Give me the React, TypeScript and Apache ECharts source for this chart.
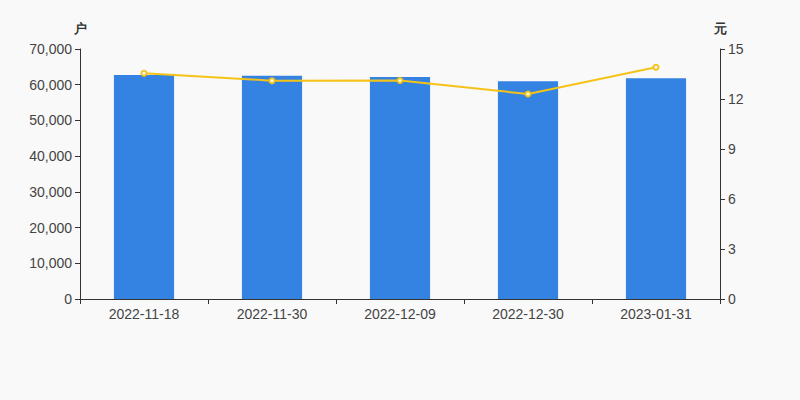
import React, { useEffect, useRef } from "react";
import * as echarts from "echarts";

const categories = ["2022-11-18", "2022-11-30", "2022-12-09", "2022-12-30", "2023-01-31"];
const holders = [62700, 62500, 62150, 60950, 61800];
const prices = [13.55, 13.1, 13.11, 12.3, 13.9];
const leftTicks = { min: 0, max: 70000, interval: 10000 };
const rightTicks = { min: 0, max: 15, interval: 3 };

export default function App() {
  const ref = useRef<HTMLDivElement>(null);
  useEffect(() => {
    document.body.style.margin = "0";
    if (!ref.current) return;
    const chart = echarts.init(ref.current, null, { renderer: "svg" });
    const axisColor = "#333";
    const labelColor = "#444";
    chart.setOption({
      animation: false,
      backgroundColor: "#f9f9f9",
      textStyle: { fontFamily: "Arial, Liberation Sans, sans-serif" },
      grid: { left: 80, right: 80, top: 49, bottom: 101 },
      xAxis: {
        type: "category",
        data: categories,
        axisLine: { lineStyle: { color: axisColor } },
        axisTick: { show: true, alignWithLabel: false, lineStyle: { color: axisColor } },
        axisLabel: { color: labelColor, fontSize: 14, margin: 8 },
      },
      yAxis: [
        {
          type: "value",
          name: "户",
          nameGap: 14,
          nameTextStyle: { color: axisColor, fontSize: 13, fontWeight: "bold", align: "center" },
          ...leftTicks,
          position: "left",
          axisLine: { show: true, lineStyle: { color: axisColor } },
          axisTick: { show: true, lineStyle: { color: axisColor } },
          splitLine: { show: false },
          axisLabel: {
            color: labelColor,
            fontSize: 14,
            formatter: (v: number) => v.toLocaleString("en-US"),
          },
        },
        {
          type: "value",
          name: "元",
          nameGap: 14,
          nameTextStyle: { color: axisColor, fontSize: 13, fontWeight: "bold", align: "center" },
          ...rightTicks,
          position: "right",
          axisLine: { show: true, lineStyle: { color: axisColor } },
          axisTick: { show: true, lineStyle: { color: axisColor } },
          splitLine: { show: false },
          axisLabel: { color: labelColor, fontSize: 14 },
        },
      ],
      series: [
        {
          type: "bar",
          data: holders,
          barWidth: "47%",
          itemStyle: { color: "#3483e2" },
          yAxisIndex: 0,
        },
        {
          type: "line",
          data: prices,
          yAxisIndex: 1,
          symbol: "emptyCircle",
          symbolSize: 5,
          lineStyle: { color: "#f5c318", width: 2 },
          itemStyle: { color: "#f5c318", borderWidth: 1 },
        },
      ],
    });
    return () => chart.dispose();
  }, []);
  return <div ref={ref} style={{ width: 800, height: 400 }} />;
}
